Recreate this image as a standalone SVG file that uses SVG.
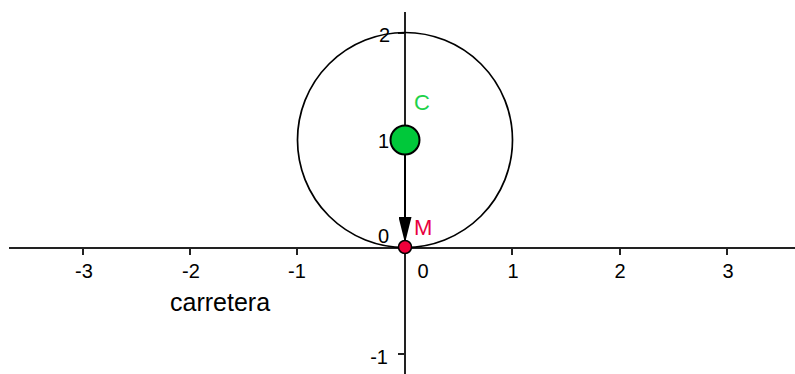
<svg xmlns="http://www.w3.org/2000/svg" width="795" height="374" viewBox="0 0 795 374">
<style>
.ax{stroke:#222;stroke-width:2;fill:none}
.tk{stroke:#222;stroke-width:2}
.lb{font-family:"Liberation Sans",Arial,sans-serif;font-size:20px;fill:#000}
.pl{font-family:"Liberation Sans",Arial,sans-serif;font-size:22px}
</style>
<defs>
<marker id="ah" viewBox="0 0 26 13" refX="26" refY="6.5" markerWidth="26" markerHeight="13" markerUnits="userSpaceOnUse" orient="auto">
<path d="M0,0 L26,6.5 L0,13 Z" fill="#000"/>
</marker>
</defs>
<g id="axes">
<line class="ax" x1="9" y1="248" x2="795" y2="248"/>
<line class="ax" x1="405" y1="12" x2="405" y2="374"/>
<line class="tk" x1="83" y1="248" x2="83" y2="255"/>
<line class="tk" x1="190" y1="248" x2="190" y2="255"/>
<line class="tk" x1="297" y1="248" x2="297" y2="255"/>
<line class="tk" x1="512" y1="248" x2="512" y2="255"/>
<line class="tk" x1="620" y1="248" x2="620" y2="255"/>
<line class="tk" x1="727" y1="248" x2="727" y2="255"/>
<line class="tk" x1="398" y1="33" x2="405" y2="33"/>
<line class="tk" x1="398" y1="140" x2="405" y2="140"/>
<line class="tk" x1="398" y1="354" x2="405" y2="354"/>
<text class="lb" x="84" y="278" text-anchor="middle">-3</text>
<text class="lb" x="191" y="278" text-anchor="middle">-2</text>
<text class="lb" x="297" y="278" text-anchor="middle">-1</text>
<text class="lb" x="423" y="278" text-anchor="middle">0</text>
<text class="lb" x="513" y="278" text-anchor="middle">1</text>
<text class="lb" x="620" y="278" text-anchor="middle">2</text>
<text class="lb" x="728" y="278" text-anchor="middle">3</text>
<text class="lb" x="390" y="42" text-anchor="end">2</text>
<text class="lb" x="389" y="148" text-anchor="end">1</text>
<text class="lb" x="389" y="243" text-anchor="end">0</text>
<text class="lb" x="388" y="364" text-anchor="end">-1</text>
<text x="170" y="311" style="font-family:'Liberation Sans',Arial,sans-serif;font-size:25px;fill:#000">carretera</text>
</g>
<g id="circle">
<circle cx="405" cy="140" r="107.5" fill="none" stroke="#000" stroke-width="1.7"/>
</g>
<g id="connectors">
<line x1="405" y1="155" x2="405" y2="243" stroke="#000" stroke-width="2" marker-end="url(#ah)"/>
</g>
<g id="C">
<circle cx="405" cy="140" r="14.5" fill="#00c83a" stroke="#000" stroke-width="2"/>
<text class="pl" x="414" y="110" fill="#1ed24a">C</text>
</g>
<g id="M">
<circle cx="405" cy="247" r="6.5" fill="#f0003a" stroke="#000" stroke-width="1.5"/>
<text class="pl" x="414" y="235" fill="#e8003e">M</text>
</g>
</svg>
